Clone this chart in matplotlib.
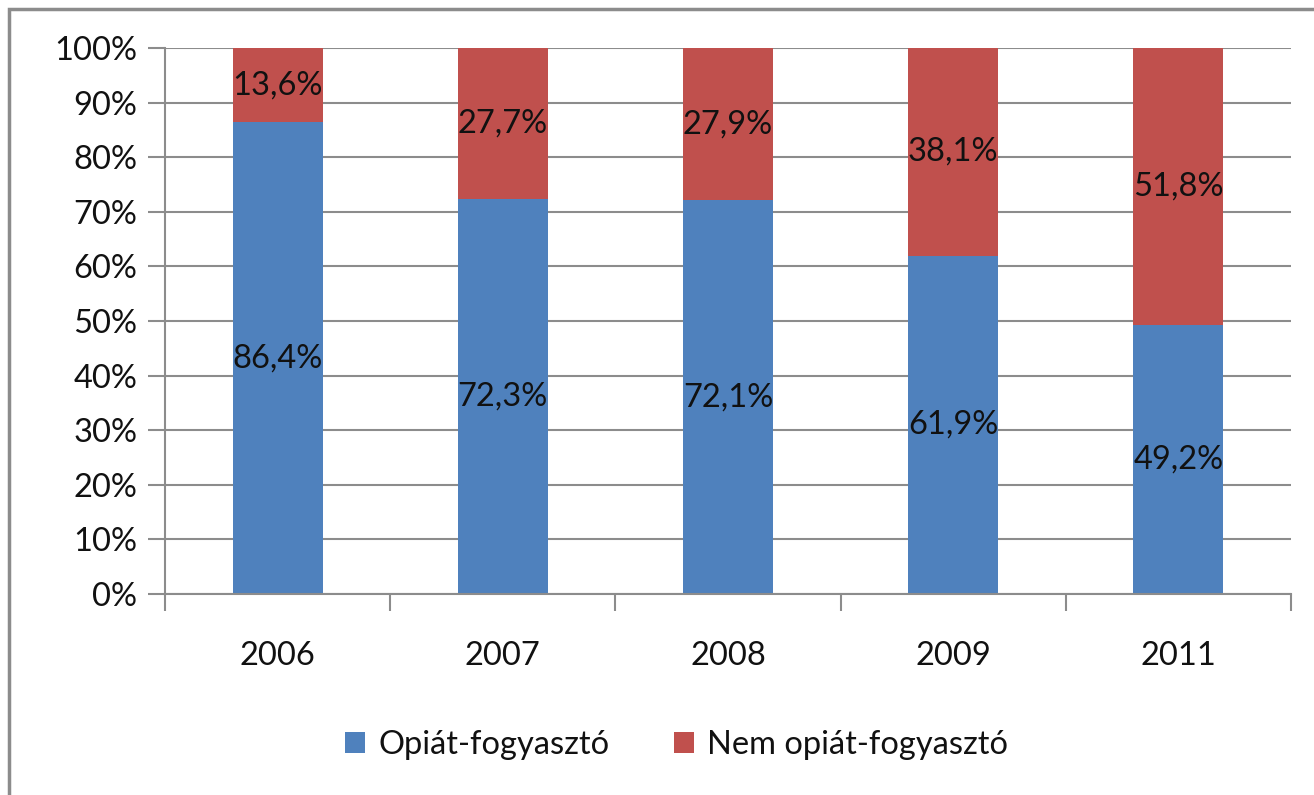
import numpy as np
import matplotlib.pyplot as plt
from matplotlib.patches import Rectangle
from matplotlib.ticker import FuncFormatter, FixedLocator

# adatok
years = ['2006', '2007', '2008', '2009', '2011']
opiat = [86.4, 72.3, 72.1, 61.9, 49.2]
nem_opiat = [13.6, 27.7, 27.9, 38.1, 51.8]
series_names = ['Opiát-fogyasztó', 'Nem opiát-fogyasztó']
colors = ['#4F81BD', '#C0504D']

plt.rcParams['font.family'] = ['Lato', 'DejaVu Sans']
FS = 23.5

fig = plt.figure(figsize=(13.14, 7.95), dpi=100)
ax = fig.add_axes([165 / 1314, 1 - 594 / 795, (1291 - 165) / 1314, (594 - 48) / 795])

x = np.arange(len(years))
b1 = ax.bar(x, opiat, width=0.4, color=colors[0], label=series_names[0], zorder=2)
b2 = ax.bar(x, nem_opiat, width=0.4, bottom=opiat, color=colors[1], label=series_names[1], zorder=2)

fmt = lambda v: f'{v:.1f}%'.replace('.', ',')
ax.bar_label(b1, labels=[fmt(v) for v in opiat], label_type='center', fontsize=FS, color='#111111')
ax.bar_label(b2, labels=[fmt(v) for v in nem_opiat], label_type='center', fontsize=FS, color='#111111')

ax.set_xlim(-0.5, len(years) - 0.5)
ax.set_ylim(0, 100)
ax.set_yticks(np.arange(0, 101, 10))
ax.yaxis.set_major_formatter(FuncFormatter(lambda v, p: f'{int(v)}%'))
ax.grid(axis='y', color='#8c8c8c', linewidth=1.5, zorder=0)

# kategória-határok jelölése
ax.set_xticks(x)
ax.set_xticklabels(years)
ax.xaxis.set_minor_locator(FixedLocator(np.arange(-0.5, len(years), 1.0)))
ax.tick_params(axis='x', which='major', length=0, pad=34, labelsize=FS, labelcolor='#111111')
ax.tick_params(axis='x', which='minor', length=12, width=1.5, color='#8c8c8c')
ax.tick_params(axis='y', length=12, width=1.5, color='#8c8c8c', labelsize=FS, labelcolor='#111111', pad=8)

for s in ['top', 'right']:
    ax.spines[s].set_visible(False)
for s in ['left', 'bottom']:
    ax.spines[s].set_color('#8c8c8c')
    ax.spines[s].set_linewidth(1.5)

fig.legend(handles=[b1, b2], labels=series_names, loc='center', bbox_to_anchor=(0.515, 1 - 745 / 795),
           ncol=2, frameon=False, fontsize=FS, handlelength=0.6, handleheight=0.6,
           handletextpad=0.4, columnspacing=2.0, labelcolor='#111111')

# külső keret
fig.patches.append(Rectangle((9 / 1314, -0.05), 1.2, 1 - 9 / 795 + 0.05, transform=fig.transFigure,
                             fill=False, edgecolor='#8c8c8c', linewidth=2.5))

fig.savefig('out.png', dpi=100)
